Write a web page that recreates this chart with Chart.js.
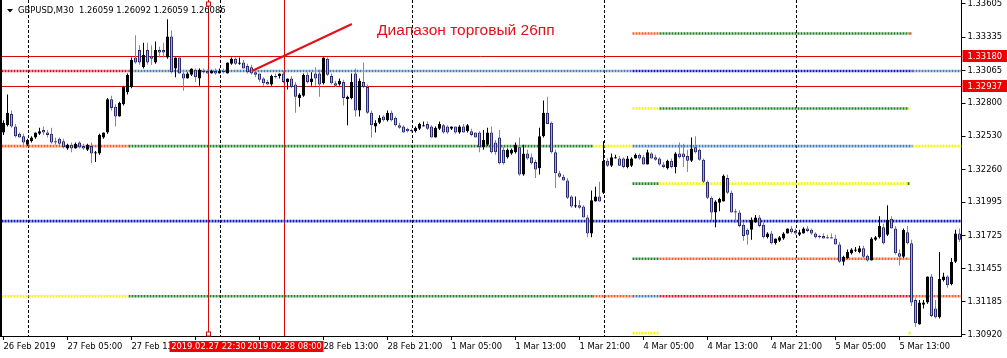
<!DOCTYPE html>
<html>
<head>
<meta charset="utf-8">
<script src="https://cdn.jsdelivr.net/npm/chart.js@4/dist/chart.umd.min.js"></script>
<style>
  html, body { margin: 0; padding: 0; background: #fff; }
  canvas { display: block; }
</style>
</head>
<body>
<canvas id="chart" width="1007" height="358"></canvas>
<script>
// GBPUSD M30, one entry per bar, 26 Feb 21:00 .. 5 Mar 16:30
const opens = [
  1.3256,1.3262,1.3271,1.3261,1.3255,1.3253,1.3246,1.3249,1.3252,1.3255,
  1.3258,1.3256,1.3255,1.3249,1.3251,1.3249,1.3243,1.3246,1.3243,1.3248,
  1.3245,1.3242,1.3245,1.3239,1.3239,1.3252,1.3256,1.3283,1.3277,1.3269,
  1.3279,1.3289,1.3293,1.3317,1.3323,1.3309,1.3323,1.3318,1.3313,1.3323,
  1.3323,1.3317,1.3334,1.3308,1.3317,1.3304,1.3300,1.3303,1.3307,1.3300,
  1.3306,1.3306,1.3304,1.3306,1.3304,1.3306,1.3304,1.3312,1.3316,1.3312,
  1.3313,1.3310,1.3309,1.3305,1.3304,1.3300,1.3297,1.3295,1.3302,1.3302,
  1.3304,1.3297,1.3300,1.3295,1.3284,1.3286,1.3303,1.3297,1.3304,1.3304,
  1.3296,1.3316,1.3302,1.3296,1.3295,1.3297,1.3283,1.3284,1.3304,1.3274,
  1.3297,1.3293,1.3272,1.3261,1.3264,1.3269,1.3266,1.3272,1.3268,1.3262,
  1.3261,1.3259,1.3258,1.3257,1.3259,1.3261,1.3263,1.3261,1.3252,1.3259,
  1.3262,1.3261,1.3259,1.3261,1.3256,1.3261,1.3257,1.3257,1.3256,1.3256,
  1.3244,1.3246,1.3256,1.3248,1.3252,1.3242,1.3236,1.3239,1.3240,1.3244,
  1.3222,1.3239,1.3236,1.3232,1.3227,1.3253,1.3272,1.3264,1.3240,1.3223,
  1.3220,1.3217,1.3204,1.3196,1.3197,1.3196,1.3187,1.3174,1.3200,1.3204,
  1.3207,1.3233,1.3229,1.3235,1.3235,1.3235,1.3228,1.3229,1.3235,1.3238,
  1.3236,1.3230,1.3239,1.3236,1.3235,1.3230,1.3227,1.3233,1.3228,1.3239,
  1.3239,1.3237,1.3233,1.3244,1.3242,1.3234,1.3216,1.3203,1.3191,1.3199,
  1.3200,1.3219,1.3207,1.3192,1.3191,1.3181,1.3177,1.3177,1.3183,1.3187,
  1.3181,1.3171,1.3174,1.3166,1.3168,1.3170,1.3174,1.3178,1.3176,1.3173,
  1.3174,1.3178,1.3177,1.3174,1.3172,1.3172,1.3171,1.3171,1.3170,1.3165,
  1.3151,1.3154,1.3158,1.3160,1.3159,1.3162,1.3156,1.3152,1.3169,1.3171,
  1.3179,1.3173,1.3186,1.3178,1.3158,1.3155,1.3175,1.3166,1.3120,1.3100,
  1.3116,1.3118,1.3139,1.3113,1.3106,1.3136,1.3139,1.3133,1.3151,1.3174
];
const highs = [
  1.3266,1.3287,1.3274,1.3263,1.3256,1.3255,1.3251,1.3253,1.3256,1.3260,
  1.3261,1.3258,1.3260,1.3252,1.3252,1.3251,1.3247,1.3248,1.3248,1.3249,
  1.3247,1.3247,1.3248,1.3241,1.3255,1.3256,1.3284,1.3286,1.3279,1.3281,
  1.3294,1.3304,1.3317,1.3335,1.3327,1.3329,1.3329,1.3327,1.3330,1.3326,
  1.3329,1.3348,1.3339,1.3317,1.3317,1.3307,1.3305,1.3308,1.3308,1.3308,
  1.3308,1.3307,1.3307,1.3308,1.3308,1.3308,1.3313,1.3317,1.3317,1.3317,
  1.3315,1.3312,1.3311,1.3307,1.3304,1.3301,1.3299,1.3303,1.3304,1.3304,
  1.3306,1.3300,1.3302,1.3297,1.3288,1.3304,1.3305,1.3305,1.3309,1.3307,
  1.3317,1.3317,1.3304,1.3298,1.3300,1.3299,1.3286,1.3304,1.3308,1.3300,
  1.3313,1.3295,1.3274,1.3266,1.3270,1.3270,1.3274,1.3274,1.3269,1.3264,
  1.3262,1.3260,1.3259,1.3261,1.3264,1.3265,1.3265,1.3262,1.3261,1.3265,
  1.3263,1.3262,1.3261,1.3261,1.3262,1.3263,1.3263,1.3259,1.3256,1.3257,
  1.3258,1.3260,1.3261,1.3250,1.3258,1.3244,1.3243,1.3243,1.3248,1.3252,
  1.3246,1.3242,1.3239,1.3234,1.3260,1.3282,1.3285,1.3265,1.3242,1.3225,
  1.3222,1.3219,1.3205,1.3204,1.3201,1.3197,1.3189,1.3209,1.3212,1.3216,
  1.3249,1.3235,1.3239,1.3238,1.3237,1.3236,1.3237,1.3236,1.3239,1.3239,
  1.3238,1.3242,1.3240,1.3238,1.3236,1.3232,1.3234,1.3235,1.3240,1.3248,
  1.3247,1.3242,1.3252,1.3253,1.3243,1.3235,1.3217,1.3204,1.3201,1.3203,
  1.3222,1.3222,1.3209,1.3194,1.3193,1.3183,1.3178,1.3187,1.3189,1.3189,
  1.3183,1.3175,1.3176,1.3170,1.3172,1.3175,1.3178,1.3180,1.3178,1.3177,
  1.3179,1.3180,1.3178,1.3175,1.3173,1.3174,1.3173,1.3174,1.3173,1.3167,
  1.3156,1.3161,1.3162,1.3163,1.3164,1.3164,1.3157,1.3171,1.3172,1.3188,
  1.3182,1.3197,1.3188,1.3180,1.3161,1.3178,1.3180,1.3169,1.3122,1.3120,
  1.3120,1.3139,1.3141,1.3120,1.3159,1.3142,1.3140,1.3154,1.3177,1.3178
];
const lows = [
  1.3254,1.3261,1.3260,1.3252,1.3252,1.3244,1.3245,1.3248,1.3251,1.3254,
  1.3254,1.3252,1.3247,1.3246,1.3245,1.3243,1.3242,1.3240,1.3243,1.3243,
  1.3242,1.3241,1.3231,1.3232,1.3238,1.3251,1.3255,1.3274,1.3261,1.3269,
  1.3278,1.3287,1.3292,1.3312,1.3311,1.3308,1.3311,1.3311,1.3312,1.3317,
  1.3317,1.3316,1.3304,1.3301,1.3304,1.3290,1.3300,1.3302,1.3297,1.3294,
  1.3304,1.3304,1.3304,1.3303,1.3304,1.3304,1.3304,1.3311,1.3311,1.3311,
  1.3308,1.3304,1.3303,1.3301,1.3297,1.3294,1.3295,1.3294,1.3300,1.3300,
  1.3296,1.3291,1.3292,1.3272,1.3277,1.3285,1.3296,1.3294,1.3294,1.3285,
  1.3295,1.3302,1.3295,1.3293,1.3294,1.3278,1.3262,1.3283,1.3269,1.3269,
  1.3292,1.3271,1.3252,1.3256,1.3263,1.3265,1.3265,1.3265,1.3261,1.3259,
  1.3256,1.3256,1.3256,1.3256,1.3258,1.3261,1.3258,1.3252,1.3252,1.3258,
  1.3255,1.3255,1.3258,1.3255,1.3255,1.3256,1.3256,1.3253,1.3252,1.3240,
  1.3242,1.3245,1.3239,1.3238,1.3230,1.3230,1.3235,1.3238,1.3239,1.3221,
  1.3221,1.3234,1.3230,1.3219,1.3222,1.3252,1.3263,1.3239,1.3211,1.3219,
  1.3217,1.3202,1.3195,1.3195,1.3194,1.3187,1.3171,1.3171,1.3200,1.3200,
  1.3206,1.3228,1.3228,1.3235,1.3229,1.3227,1.3227,1.3228,1.3235,1.3234,
  1.3230,1.3230,1.3235,1.3233,1.3229,1.3227,1.3226,1.3227,1.3223,1.3235,
  1.3228,1.3224,1.3232,1.3239,1.3233,1.3215,1.3202,1.3184,1.3179,1.3192,
  1.3200,1.3206,1.3191,1.3183,1.3179,1.3168,1.3165,1.3169,1.3183,1.3179,
  1.3170,1.3170,1.3165,1.3165,1.3167,1.3169,1.3174,1.3174,1.3173,1.3172,
  1.3174,1.3175,1.3173,1.3170,1.3170,1.3170,1.3170,1.3170,1.3165,1.3150,
  1.3148,1.3153,1.3157,1.3159,1.3158,1.3154,1.3151,1.3152,1.3168,1.3170,
  1.3165,1.3172,1.3178,1.3157,1.3148,1.3154,1.3165,1.3115,1.3098,1.3100,
  1.3113,1.3117,1.3106,1.3105,1.3105,1.3135,1.3130,1.3132,1.3150,1.3167
];
const closes = [
  1.3264,1.3272,1.3261,1.3253,1.3252,1.3248,1.3250,1.3252,1.3256,1.3257,
  1.3256,1.3254,1.3248,1.3248,1.3247,1.3244,1.3246,1.3243,1.3247,1.3244,
  1.3243,1.3246,1.3239,1.3240,1.3254,1.3256,1.3283,1.3276,1.3269,1.3280,
  1.3293,1.3303,1.3315,1.3313,1.3313,1.3319,1.3313,1.3316,1.3323,1.3321,
  1.3321,1.3334,1.3305,1.3317,1.3304,1.3300,1.3304,1.3308,1.3301,1.3307,
  1.3305,1.3304,1.3306,1.3304,1.3306,1.3305,1.3313,1.3316,1.3312,1.3313,
  1.3308,1.3305,1.3304,1.3303,1.3299,1.3296,1.3295,1.3302,1.3301,1.3304,
  1.3297,1.3300,1.3293,1.3285,1.3287,1.3303,1.3297,1.3300,1.3300,1.3295,
  1.3317,1.3303,1.3296,1.3294,1.3298,1.3284,1.3285,1.3297,1.3274,1.3298,
  1.3293,1.3272,1.3262,1.3264,1.3268,1.3266,1.3272,1.3266,1.3262,1.3260,
  1.3256,1.3257,1.3257,1.3260,1.3263,1.3262,1.3259,1.3252,1.3260,1.3263,
  1.3256,1.3256,1.3261,1.3256,1.3261,1.3256,1.3262,1.3254,1.3252,1.3244,
  1.3250,1.3256,1.3240,1.3240,1.3231,1.3231,1.3242,1.3242,1.3246,1.3222,
  1.3239,1.3235,1.3231,1.3226,1.3253,1.3272,1.3263,1.3240,1.3223,1.3220,
  1.3217,1.3203,1.3196,1.3197,1.3195,1.3187,1.3174,1.3201,1.3204,1.3200,
  1.3233,1.3229,1.3236,1.3236,1.3229,1.3228,1.3235,1.3235,1.3238,1.3235,
  1.3230,1.3240,1.3235,1.3234,1.3230,1.3228,1.3233,1.3228,1.3239,1.3236,
  1.3236,1.3233,1.3243,1.3240,1.3234,1.3216,1.3203,1.3191,1.3200,1.3202,
  1.3221,1.3207,1.3191,1.3191,1.3180,1.3172,1.3173,1.3185,1.3187,1.3180,
  1.3171,1.3174,1.3166,1.3170,1.3171,1.3174,1.3178,1.3175,1.3174,1.3175,
  1.3178,1.3176,1.3174,1.3171,1.3171,1.3170,1.3170,1.3170,1.3165,1.3151,
  1.3155,1.3159,1.3161,1.3161,1.3162,1.3155,1.3152,1.3170,1.3171,1.3180,
  1.3166,1.3185,1.3178,1.3158,1.3155,1.3177,1.3166,1.3118,1.3101,1.3118,
  1.3118,1.3139,1.3107,1.3106,1.3137,1.3139,1.3132,1.3151,1.3174,1.3169
];

const tickBars = [0, 16, 32, 48, 64, 80, 96, 112, 128, 144, 160, 176, 192, 208, 224];
const tickLabels = ['26 Feb 2019', '27 Feb 05:00', '27 Feb 13:00', '27 Feb 21:00', '28 Feb 05:00',
  '28 Feb 13:00', '28 Feb 21:00', '1 Mar 05:00', '1 Mar 13:00', '1 Mar 21:00',
  '4 Mar 05:00', '4 Mar 13:00', '4 Mar 21:00', '5 Mar 05:00', '5 Mar 13:00'];
const priceTicks = [1.33605, 1.33335, 1.33065, 1.32800, 1.32530, 1.32260, 1.31995, 1.31725, 1.31455, 1.31185, 1.30920];
const dayStarts = [6, 54, 102, 150, 198];

// indicator levels and the bar ranges where each colour applies
const levels = [1.33365, 1.3306, 1.32755, 1.3245, 1.32145, 1.3184, 1.31535, 1.3123, 1.3093];
const levelSegments = [
  [0, 157.25, 164, 'orange'], [0, 164, 226.5, 'green'], [0, 226.5, 227, 'orange'],
  [1, -0.5, 31.25, 'red'], [1, 31.25, 157.25, 'steel'], [1, 157.25, 227.25, 'blue'], [1, 227.25, 239.5, 'steel'],
  [2, 157.25, 164, 'yellow'], [2, 164, 226, 'green'], [2, 226, 226.5, 'yellow'],
  [3, -0.5, 31.25, 'orange'], [3, 31.25, 147.25, 'green'], [3, 147.25, 157.25, 'yellow'], [3, 157.25, 227.25, 'steel'], [3, 227.25, 239.5, 'yellow'],
  [4, 157.25, 164, 'green'], [4, 164, 226, 'yellow'], [4, 226, 226.5, 'green'],
  [5, -0.5, 239.5, 'blue'],
  [6, 157.25, 164, 'green'], [6, 164, 226.5, 'orange'],
  [7, -0.5, 31.25, 'yellow'], [7, 31.25, 147.25, 'green'], [7, 147.25, 157.25, 'orange'], [7, 157.25, 164, 'steel'], [7, 164, 227.25, 'red'], [7, 227.25, 239.5, 'orange'],
  [8, 157.25, 164, 'yellow'], [8, 226.25, 226.75, 'yellow']
];

const hLines = [1.33180, 1.32937];
const vLines = [51, 70];
const vLineLabels = ['2019.02.27 22:30', '2019.02.28 08:00'];
const trend = { x0: 62.1, y0: 1.3306, x1: 87.1, y1: 1.33442 };
const note = { x: 93.4, y: 1.3335, text: 'Диапазон торговый 26пп' };
const header = 'GBPUSD,M30  1.26059 1.26092 1.26059 1.26086';

const tones = {
  orange: '#ff5a20', green: '#23832a', red: '#e0102a', steel: '#437db4', blue: '#0818c4', yellow: '#f4f414'
};
const FONT = '8.4px "DejaVu Sans"';
const RED = '#e3101a';

const isBull = opens.map((o, i) => closes[i] > o);

const levelSets = levelSegments.map(([lv, from, to, tone]) => ({
  type: 'line',
  data: [{ x: from, y: levels[lv] }, { x: to, y: levels[lv] }],
  borderColor: tones[tone],
  borderWidth: 2.6,
  borderDash: [2, 1],
  pointRadius: 0,
  order: 3
}));

const overlay = {
  id: 'overlay',
  beforeDraw(chart) {
    const c = chart.ctx;
    c.save();
    c.fillStyle = '#fff';
    c.fillRect(0, 0, chart.width, chart.height);
    c.restore();
  },
  beforeDatasetsDraw(chart) {
    const c = chart.ctx, a = chart.chartArea;
    const x = chart.scales.x, y = chart.scales.y;
    c.save();
    // day separators
    c.strokeStyle = '#000';
    c.lineWidth = 1;
    c.setLineDash([3, 2]);
    dayStarts.forEach(d => {
      const px = Math.round(x.getPixelForValue(d)) + 0.5;
      c.beginPath(); c.moveTo(px, a.top); c.lineTo(px, a.bottom); c.stroke();
    });
    c.setLineDash([]);
    // range lines
    c.strokeStyle = '#d40a0a';
    hLines.forEach(p => {
      const py = Math.round(y.getPixelForValue(p)) + 0.5;
      c.beginPath(); c.moveTo(0, py); c.lineTo(a.right, py); c.stroke();
    });
    vLines.forEach(b => {
      const px = Math.round(x.getPixelForValue(b)) + 0.5;
      c.beginPath(); c.moveTo(px, a.top); c.lineTo(px, a.bottom); c.stroke();
    });
    c.restore();
  },
  afterDatasetsDraw(chart) {
    const c = chart.ctx, a = chart.chartArea;
    const x = chart.scales.x, y = chart.scales.y;
    c.save();
    // trend line
    c.strokeStyle = RED;
    c.lineWidth = 2;
    c.beginPath();
    c.moveTo(x.getPixelForValue(trend.x0), y.getPixelForValue(trend.y0));
    c.lineTo(x.getPixelForValue(trend.x1), y.getPixelForValue(trend.y1));
    c.stroke();
    // note
    c.fillStyle = RED;
    c.font = '15.5px "Liberation Sans"';
    c.textBaseline = 'alphabetic';
    c.fillText(note.text, x.getPixelForValue(note.x), y.getPixelForValue(note.y));
    // header
    c.fillStyle = '#000';
    c.beginPath(); c.moveTo(7, 9); c.lineTo(13, 9); c.lineTo(10, 12.5); c.closePath(); c.fill();
    c.font = FONT;
    c.textBaseline = 'middle';
    c.fillText(header, 18, 11);
    // handles of the selected vertical line
    const hx = Math.round(x.getPixelForValue(vLines[0]));
    c.fillStyle = '#fff';
    c.strokeStyle = '#d40a0a';
    c.lineWidth = 1;
    [a.top + 2, a.bottom - 4].forEach(py => {
      c.fillRect(hx - 1.5, py, 4, 4);
      c.strokeRect(hx - 1.5, py, 4, 4);
    });
    // left frame
    c.fillStyle = '#000';
    c.fillRect(0, 0, 2, a.bottom + 1);
    c.restore();
  },
  afterDraw(chart) {
    const c = chart.ctx, a = chart.chartArea;
    const x = chart.scales.x, y = chart.scales.y;
    c.save();
    c.font = FONT;
    c.textBaseline = 'middle';
    hLines.forEach(p => {
      const py = Math.round(y.getPixelForValue(p));
      c.fillStyle = '#f20000';
      c.fillRect(a.right + 1, py - 6, chart.width - a.right - 1, 12);
      c.fillStyle = '#fff';
      c.textAlign = 'left';
      c.fillText(p.toFixed(5), a.right + 6, py + 0.5);
    });
    vLines.forEach((b, i) => {
      const px = Math.round(x.getPixelForValue(b)) + 0.5;
      c.fillStyle = '#f20000';
      c.fillRect(px - 39, a.bottom + 5, 78, 11);
      c.fillStyle = '#fff';
      c.textAlign = 'center';
      c.fillText(vLineLabels[i], px, a.bottom + 11);
    });
    c.restore();
  }
};

new Chart(document.getElementById('chart'), {
  type: 'bar',
  data: {
    datasets: [
      {
        label: 'wick',
        data: opens.map((_, i) => ({ x: i, y: [lows[i], highs[i]] })),
        backgroundColor: isBull.map(b => b ? '#000' : '#8a8a8a'),
        barThickness: 1,
        grouped: false,
        inflateAmount: 0,
        order: 2
      },
      {
        label: 'body',
        data: opens.map((o, i) => ({ x: i, y: [o, closes[i]] })),
        backgroundColor: isBull.map(b => b ? '#000' : '#a8a8d4'),
        borderColor: isBull.map(b => b ? '#000' : '#2a2a6e'),
        borderWidth: 1,
        borderSkipped: false,
        barThickness: 3,
        minBarLength: 1,
        grouped: false,
        inflateAmount: 0,
        order: 1
      },
      ...levelSets
    ]
  },
  options: {
    responsive: false,
    animation: false,
    layout: { padding: { left: 1.5, top: 0, right: 0, bottom: 0 } },
    plugins: { legend: { display: false }, tooltip: { enabled: false } },
    scales: {
      x: {
        type: 'linear',
        min: -0.5,
        max: 239.5,
        offset: false,
        grid: { offset: false, drawOnChartArea: false, tickLength: 4, color: '#000' },
        border: { color: '#000' },
        ticks: {
          autoSkip: false, maxRotation: 0, minRotation: 0, align: 'start', padding: 2,
          color: '#000', font: { family: 'DejaVu Sans', size: 8.4 },
          callback: (v, i) => tickLabels[i]
        },
        afterBuildTicks: s => { s.ticks = tickBars.map(v => ({ value: v })); },
        afterFit: s => { s.height = 22; s.paddingLeft = 0; s.paddingRight = 0; }
      },
      y: {
        position: 'right',
        min: 1.30907,
        max: 1.33637,
        beginAtZero: false,
        grid: { drawOnChartArea: false, tickLength: 4, color: '#000' },
        border: { color: '#000' },
        ticks: {
          autoSkip: false, padding: 2,
          color: '#000', font: { family: 'DejaVu Sans', size: 8.4 },
          callback: v => v.toFixed(5)
        },
        afterBuildTicks: s => { s.ticks = priceTicks.map(v => ({ value: v })); },
        afterFit: s => { s.width = 45.5; s.paddingTop = 0; s.paddingBottom = 0; }
      }
    }
  },
  plugins: [overlay]
});
</script>
</body>
</html>
